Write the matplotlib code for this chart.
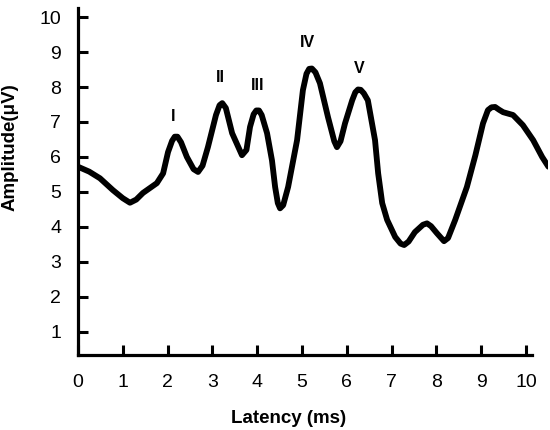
import matplotlib.pyplot as plt

plt.rcParams['font.family'] = ['Liberation Sans', 'DejaVu Sans']

# trace: latency (ms) and amplitude (uV)
latency = [0.00, 0.25, 0.49, 0.78, 1.00, 1.16, 1.30, 1.45, 1.76, 1.90, 2.01,
           2.10, 2.16, 2.22, 2.30, 2.43, 2.58, 2.68, 2.78, 2.90, 3.08, 3.16,
           3.22, 3.30, 3.44, 3.66, 3.76, 3.84, 3.92, 3.98, 4.04, 4.10, 4.22,
           4.33, 4.40, 4.46, 4.51, 4.58, 4.69, 4.89, 5.02, 5.10, 5.16, 5.22,
           5.30, 5.40, 5.58, 5.72, 5.78, 5.86, 5.96, 6.12, 6.19, 6.25, 6.31,
           6.38, 6.47, 6.63, 6.70, 6.79, 6.90, 7.08, 7.20, 7.28, 7.38, 7.52,
           7.70, 7.79, 7.88, 8.01, 8.17, 8.26, 8.42, 8.68, 8.87, 9.04, 9.15,
           9.23, 9.31, 9.40, 9.49, 9.71, 9.93, 10.16, 10.36, 10.50]
amplitude = [5.72, 5.58, 5.39, 5.05, 4.82, 4.69, 4.78, 4.97, 5.25, 5.53, 6.14,
             6.46, 6.58, 6.58, 6.42, 6.00, 5.65, 5.57, 5.75, 6.28, 7.20, 7.48,
             7.54, 7.40, 6.68, 6.05, 6.20, 6.86, 7.22, 7.33, 7.33, 7.20, 6.68,
             5.90, 5.14, 4.68, 4.53, 4.62, 5.14, 6.48, 7.91, 8.38, 8.52, 8.53,
             8.42, 8.11, 7.14, 6.45, 6.28, 6.45, 6.96, 7.62, 7.85, 7.93, 7.92,
             7.82, 7.62, 6.48, 5.53, 4.68, 4.20, 3.71, 3.52, 3.48, 3.58, 3.85,
             4.06, 4.10, 4.02, 3.82, 3.59, 3.68, 4.20, 5.14, 6.05, 6.96, 7.34,
             7.42, 7.43, 7.35, 7.28, 7.20, 6.91, 6.48, 6.00, 5.72]

# wave names and where their labels sit
peak_names = ['I', 'II', 'III', 'IV', 'V']
label_x = [2.12, 3.17, 4.02, 5.13, 6.27]
label_y = [7.17, 8.28, 8.03, 9.26, 8.54]

fig = plt.figure(figsize=(5.5, 4.3), dpi=100)
ax = fig.add_axes([0.1418, 0.1733, 0.8545, 0.808])

ax.plot(latency, amplitude, color='black', lw=4.2,
        solid_joinstyle='round', solid_capstyle='round')

for name, x, y in zip(peak_names, label_x, label_y):
    ax.text(x, y, name, ha='center', va='center', fontsize=11.5,
            fontweight='bold')

ax.set_xlim(0, 10.49)
ax.set_ylim(0.32, 10.26)
ax.set_xticks(range(0, 11))
ax.set_yticks(range(1, 11))

ax.spines['top'].set_visible(False)
ax.spines['right'].set_visible(False)
ax.spines['left'].set_linewidth(2.3)
ax.spines['bottom'].set_linewidth(2.3)
ax.spines['bottom'].set_bounds(0, 10.13)

ax.tick_params(axis='both', direction='in', length=7, width=2.2,
               labelsize=14, colors='black')
ax.tick_params(axis='x', pad=13)
ax.tick_params(axis='y', pad=12)

ax.set_xlabel('Latency (ms)', fontsize=13.5, fontweight='bold')
ax.set_ylabel('Amplitude(μV)', fontsize=13.5, fontweight='bold')
ax.xaxis.set_label_coords(0.447, -0.157)
ax.yaxis.set_label_coords(-0.126, 0.60)

plt.savefig('out.png', dpi=100)
plt.close()
